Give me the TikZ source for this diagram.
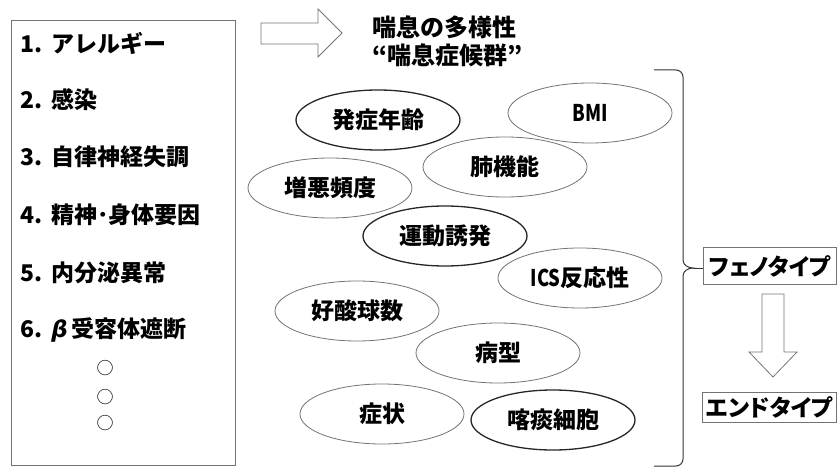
\documentclass[tikz,border=0pt]{standalone}
\usepackage{fontspec}
\setmainfont{Noto Sans CJK JP}
\newfontfamily\grkfont{DejaVu Sans}
\usetikzlibrary{shapes.geometric}
\tikzset{
  ell/.style={ellipse, draw=black!55, line width=0.8pt, minimum width=164pt, minimum height=60pt, inner sep=0pt},
  ellthick/.style={ell, draw=black!85, line width=1.3pt},
  framebox/.style={draw=black!55, line width=0.9pt, inner sep=0pt},
  item/.style={anchor=west, inner sep=0pt},
  hollow/.style={draw=black!55, line width=0.8pt, line join=miter},
  bracepath/.style={draw=black!80, line width=1pt},
  dotmark/.style={inner sep=0pt, font=\fontsize{17}{17}\selectfont\mdseries},
  katakana/.style={font=\fontsize{23}{26}\selectfont\bfseries\addfontfeatures{RawFeature=+palt}}
}
\newcommand{\narrowtxt}[1]{\scalebox{0.8}[1]{#1}}
\begin{document}
\begin{tikzpicture}[x=1pt,y=-1pt,font=\fontsize{23}{26}\selectfont\bfseries]
\path[use as bounding box] (0,0) rectangle (837,470);
% left box
\node[framebox, minimum width=224pt, minimum height=445pt, anchor=north west] (leftbox) at (11,20) {};
\node[item] (i1) at (20,43) {1.\ \,アレルギー};
\node[item] (i2) at (20,100) {2.\ \,感染};
\node[item] (i3) at (20,157) {3.\ \,自律神経失調};
\node[item] (i4) at (20,215) {4.\ \,精神･身体要因};
\node[item] (i5) at (20,273) {5.\ \,内分泌異常};
\node[item] (i6) at (20,330) {6.\ \,{\grkfont\bfseries\itshape β}\,受容体遮断};
\node[dotmark] (d1) at (105,368) {○};
\node[dotmark] (d2) at (105,397) {○};
\node[dotmark] (d3) at (105,423) {○};
% top arrow
\draw[hollow] (261,23) -- (318,23) -- (318,9) -- (342,33) -- (318,57) -- (318,44) -- (261,44) -- cycle;
% title
\node[anchor=west, align=left, inner sep=0pt, font=\fontsize{24}{28}\selectfont\bfseries] (title) at (372,41) {喘息の多様性\\“喘息症候群”};
% ellipses
\node[ellthick] (e1) at (378,120) {発症年齢};
\node[ell] (e2) at (590,113) {\narrowtxt{BMI}};
\node[ell] (e3) at (505,167) {肺機能};
\node[ell] (e4) at (330,188) {増悪頻度};
\node[ellthick] (e5) at (445,236) {運動誘発};
\node[ell] (e6) at (580,278) {\narrowtxt{ICS}反応性};
\node[ell] (e7) at (357,311) {好酸球数};
\node[ell] (e8) at (498,353) {病型};
\node[ell] (e9) at (382,414) {症状};
\node[ellthick] (e10) at (553,420) {喀痰細胞};
% right boxes
\node[framebox, katakana, minimum width=133pt, minimum height=37pt, anchor=north west] (pheno) at (703,247) {フェノタイプ};
\node[framebox, katakana, minimum width=134pt, minimum height=30pt, anchor=north west] (endo) at (702,392) {エンドタイプ};
% brace
\coordinate (tip) at (693,268);
\draw[bracepath] (654,70) -- (676,70) to[out=0,in=90] (683,77) -- (683,260) to[out=-90,in=180] (tip)
  to[out=180,in=90] (683,276) -- (683,459) to[out=-90,in=0] (676,466) -- (654,466);
\draw[bracepath] (tip) -- (tip -| pheno.west);
% down arrow
\draw[hollow] (762,294) -- (784,294) -- (784,352) -- (797,352) -- (773,377) -- (749,352) -- (762,352) -- cycle;
\end{tikzpicture}
\end{document}
